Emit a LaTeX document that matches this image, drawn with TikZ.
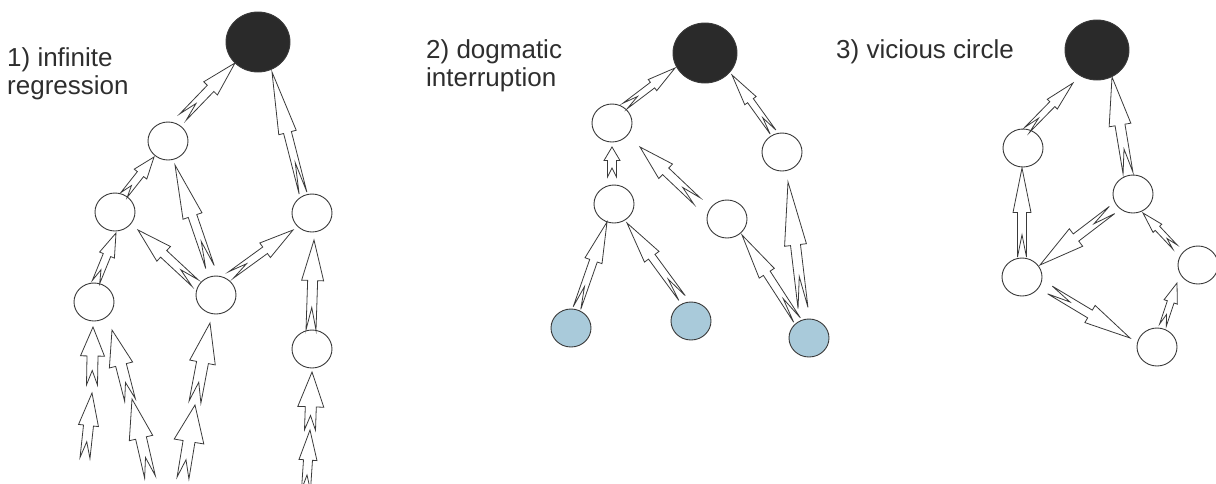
\documentclass[tikz,border=0pt]{standalone}
\usepackage{fontspec}
\setmainfont{Liberation Sans}
\usetikzlibrary{shapes.geometric,calc}
\definecolor{linec}{HTML}{3A3A3A}
\definecolor{darkf}{HTML}{2A2A2A}
\definecolor{bluef}{HTML}{A9CADA}
\definecolor{textc}{HTML}{2E2E2E}
\pgfkeys{/za/.cd,hw/.initial=20,sw/.initial=9,hf/.initial=0.45,nf/.initial=0.25}
\newcommand\zarrow[3][]{%
  \pgfkeys{/za/.cd,hw=20,sw=9,hf=0.45,nf=0.25,#1}%
  \pgfmathsetmacro\zahw{0.5*\pgfkeysvalueof{/za/hw}}%
  \pgfmathsetmacro\zasw{0.5*\pgfkeysvalueof{/za/sw}}%
  \edef\zahf{\pgfkeysvalueof{/za/hf}}%
  \edef\zanf{\pgfkeysvalueof{/za/nf}}%
  \coordinate (zaT) at #2;
  \coordinate (zaP) at #3;
  \coordinate (zaH) at ($(zaP)!\zahf!(zaT)$);
  \coordinate (zaN) at ($(zaT)!\zanf!(zaP)$);
  \draw[zarr] (zaP) -- ($(zaH)!\zahw pt!90:(zaP)$) -- ($(zaH)!\zasw pt!90:(zaP)$)
    -- ($(zaT)!\zasw pt!90:(zaP)$) -- (zaN) -- ($(zaT)!\zasw pt!-90:(zaP)$)
    -- ($(zaH)!\zasw pt!-90:(zaP)$) -- ($(zaH)!\zahw pt!-90:(zaP)$) -- cycle;
}
\tikzset{
  circ/.style={ellipse, draw=linec, line width=0.9pt, minimum width=40pt, minimum height=38pt, inner sep=0pt, fill=white},
  blk/.style={circ, fill=darkf, minimum width=64pt, minimum height=60pt},
  blu/.style={circ, fill=bluef},
  zarr/.style={draw=linec, line width=0.8pt, line join=miter},
  lbl/.style={font=\fontsize{26}{28.5}\selectfont, text=textc, inner sep=0pt, align=left, anchor=north west}
}
\begin{document}
\begin{tikzpicture}[x=1pt,y=-1pt]
\useasboundingbox (0,0) rectangle (1216,483);
% labels
\node[lbl] (t1) at (7,47) {1) infinite\\regression};
\node[lbl] (t2) at (426,39) {2) dogmatic\\interruption};
\node[lbl] (t3) at (836,39) {3) vicious circle};
% panel 1
\node[blk] (bk1) at (258,42) {};
\node[circ] (A) at (168,141) {};
\node[circ] (B) at (115,212) {};
\node[circ] (C) at (312,213) {};
\node[circ] (D) at (94,302) {};
\node[circ] (E) at (216,295) {};
\node[circ] (F) at (312,349) {};
\coordinate (f9t) at (92,385);
\coordinate (f10t) at (85,458);
\coordinate (f10p) at (92,393);
\coordinate (f11t) at (130,400);
\coordinate (f11p) at (112,330);
\coordinate (f12t) at (150,477);
\coordinate (f12p) at (132,399);
\coordinate (f13t) at (195,402);
\coordinate (f14t) at (183,478);
\coordinate (f14p) at (195,405);
\coordinate (f15t) at (310,430);
\coordinate (f16t) at (306,490);
\zarrow[hw=19,sw=9,hf=0.47]{($(A)+(15,-24)$)}{($(bk1)+(-23,21)$)}
\zarrow[hw=18,sw=8,hf=0.5]{($(C)+(-9,-20)$)}{($(bk1)+(14,30)$)}
\zarrow[hw=16,sw=8]{($(B)+(9,-17)$)}{($(A)+(-14,16)$)}
\zarrow[hw=20,sw=9,hf=0.5]{($(E)+(-6,-28)$)}{($(A)+(7,24)$)}
\zarrow[hw=20,sw=9]{($(E)+(-21,-12)$)}{($(B)+(23,18)$)}
\zarrow[hw=18,sw=8]{($(E)+(15,-20)$)}{($(C)+(-19,17)$)}
\zarrow[hw=16,sw=8]{($(D)+(2,-20)$)}{($(B)+(1,21)$)}
\zarrow[hw=22,sw=10,hf=0.45]{($(F)+(-1,-19)$)}{($(C)+(2,27)$)}
\zarrow[hw=24,sw=11,hf=0.5]{(f9t)}{($(D)+(-1,25)$)}
\zarrow[hw=20,sw=10,hf=0.5]{(f10t)}{(f10p)}
\zarrow[hw=24,sw=11,hf=0.5]{(f11t)}{(f11p)}
\zarrow[hw=24,sw=11,hf=0.5]{(f12t)}{(f12p)}
\zarrow[hw=26,sw=12,hf=0.5]{(f13t)}{($(E)+(-6,28)$)}
\zarrow[hw=30,sw=12,hf=0.5]{(f14t)}{(f14p)}
\zarrow[hw=26,sw=11,hf=0.6]{(f15t)}{($(F)+(0,23)$)}
\zarrow[hw=18,sw=9,hf=0.5]{(f16t)}{(f15t)}
% panel 2
\node[blk] (bk2) at (705,53) {};
\node[circ] (G) at (612,123) {};
\node[circ] (H) at (782,152) {};
\node[circ] (I) at (614,204) {};
\node[circ] (J) at (727,219) {};
\node[blu] (K) at (571,328) {};
\node[blu] (L) at (691,321) {};
\node[blu] (M) at (809,338) {};
\zarrow[hw=14,sw=7,hf=0.45]{($(G)+(13,-17)$)}{($(bk2)+(-30,15)$)}
\zarrow[hw=14,sw=7,hf=0.45]{($(H)+(-9,-20)$)}{($(bk2)+(27,22)$)}
\zarrow[hw=16,sw=9,hf=0.45,nf=0.3]{($(I)+(-2,-27)$)}{($(G)+(0,24)$)}
\zarrow[hw=20,sw=9,hf=0.45]{($(J)+(-30,-18)$)}{($(G)+(28,24)$)}
\zarrow[hw=18,sw=8,hf=0.45]{($(K)+(6,-20)$)}{($(I)+(-7,18)$)}
\zarrow[hw=18,sw=8,hf=0.45]{($(L)+(-9,-23)$)}{($(I)+(13,19)$)}
\zarrow[hw=18,sw=8,hf=0.45]{($(M)+(-12,-18)$)}{($(J)+(15,16)$)}
\zarrow[hw=22,sw=10,hf=0.5]{($(M)+(-6,-30)$)}{($(H)+(6,30)$)}
% panel 3
\node[blk] (bk3) at (1097,50) {};
\node[circ] (N) at (1023,148) {};
\node[circ] (O) at (1133,194) {};
\node[circ] (P) at (1022,277) {};
\node[circ] (Q) at (1198,265) {};
\node[circ] (R) at (1157,347) {};
\zarrow[hw=14,sw=7,hf=0.45]{($(N)+(4,-18)$)}{($(bk3)+(-24,33)$)}
\zarrow[hw=22,sw=10,hf=0.5]{($(O)+(-5,-21)$)}{($(bk3)+(15,27)$)}
\zarrow[hw=18,sw=9,hf=0.5]{($(P)+(0,-20)$)}{($(N)+(-1,20)$)}
\zarrow[hw=22,sw=9,hf=0.5]{($(O)+(-21,16)$)}{($(P)+(18,-12)$)}
\zarrow[hw=12,sw=6,hf=0.45]{($(Q)+(-23,-18)$)}{($(O)+(10,19)$)}
\zarrow[hw=20,sw=9,hf=0.5]{($(P)+(28,13)$)}{($(R)+(-27,-9)$)}
\zarrow[hw=14,sw=7,hf=0.45]{($(R)+(6,-22)$)}{($(Q)+(-21,18)$)}
\end{tikzpicture}
\end{document}
